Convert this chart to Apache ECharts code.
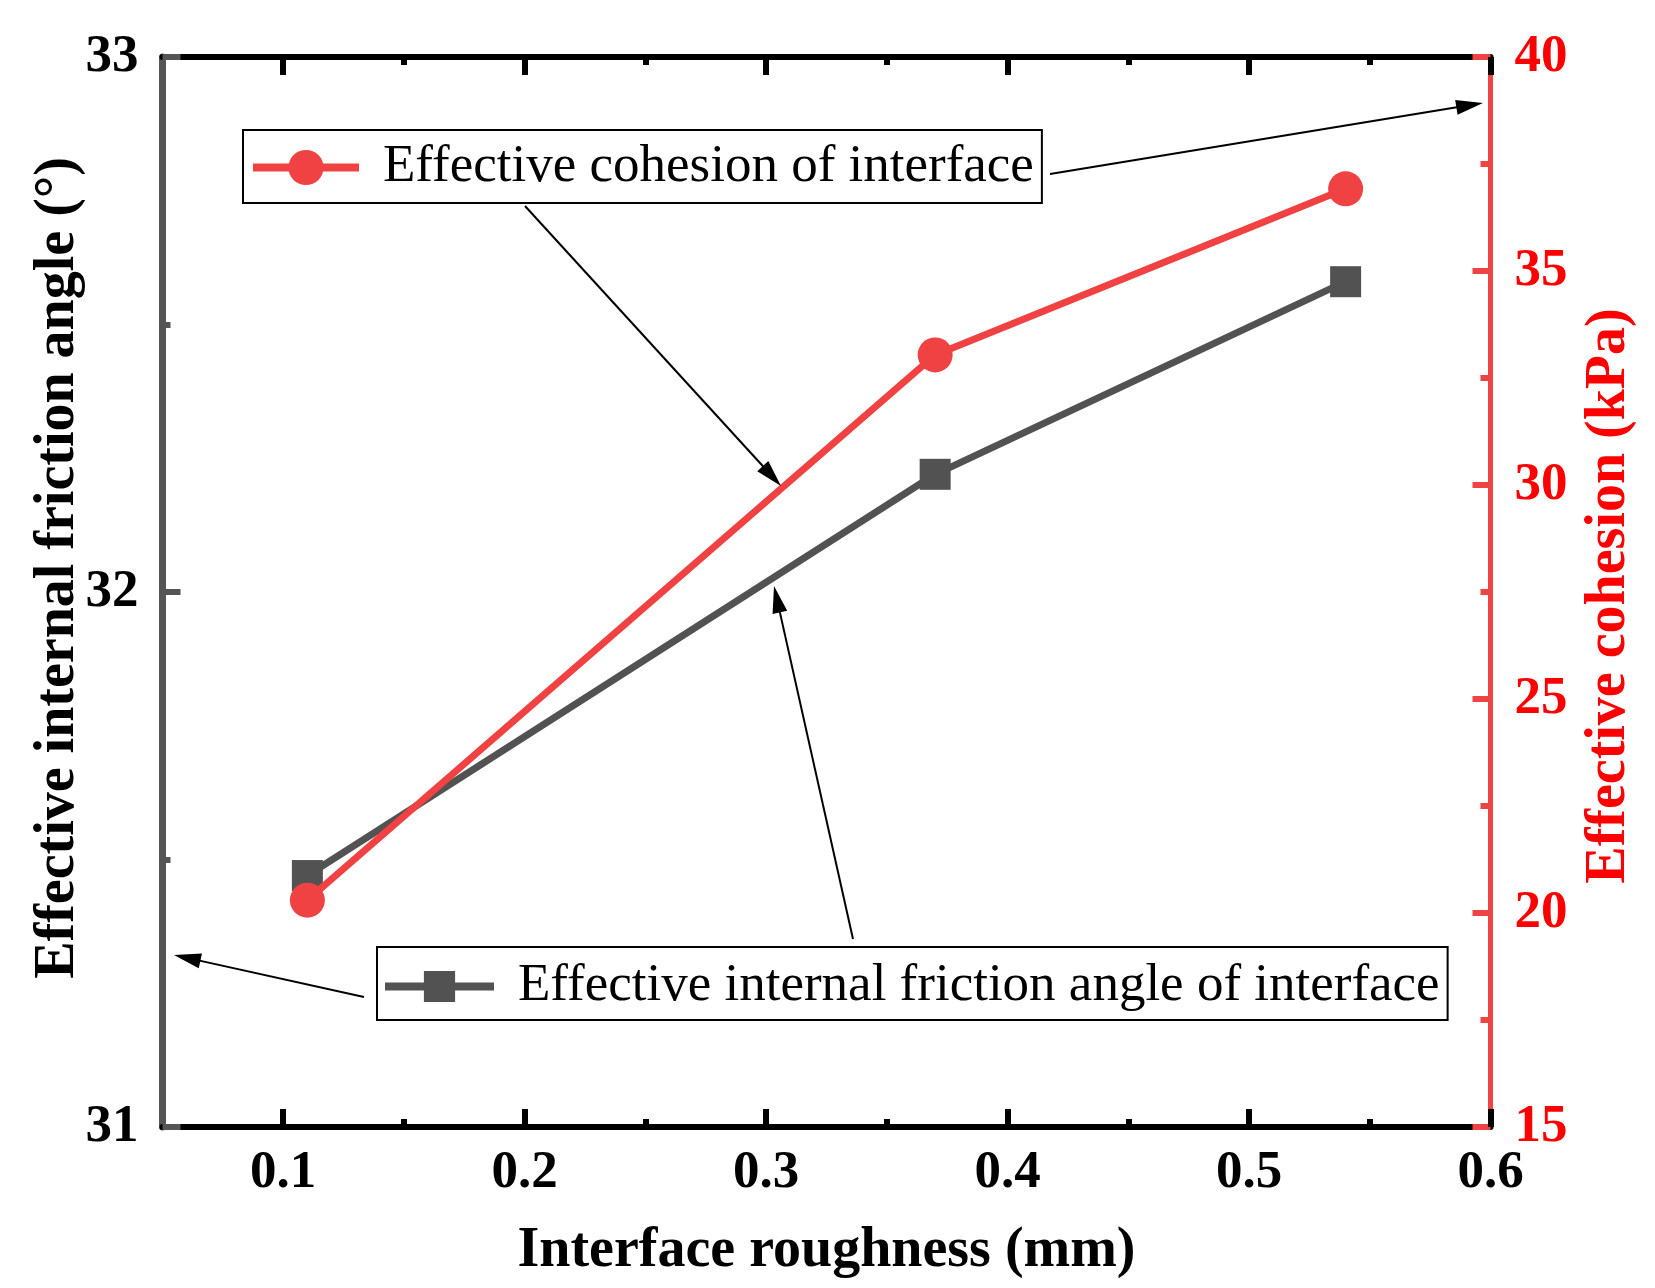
<!DOCTYPE html>
<html>
<head>
<meta charset="utf-8">
<script src="https://cdn.jsdelivr.net/npm/echarts@6/dist/echarts.min.js"></script>
<style>
html,body{margin:0;padding:0;background:#fff;}
#chart{width:1655px;height:1288px;}
</style>
</head>
<body>
<div id="chart"></div>
<script>
// ---- data ----
const roughness = [0.11, 0.37, 0.54];
const frictionAngle = [31.47, 32.22, 32.58];
const cohesion = [20.30, 33.04, 36.92];
const xMajorTicks = [0.1, 0.2, 0.3, 0.4, 0.5, 0.6];
const xMinorTicks = [0.15, 0.25, 0.35, 0.45, 0.55];
const nameCohesion = 'Effective cohesion of interface';
const nameFriction = 'Effective internal friction angle of interface';

const FONT = "'Liberation Serif', 'Times New Roman', serif";
const RED = '#F04242';
const GRAY = '#525252';

function pairs(xs, ys){ return xs.map((x,i)=>[x, ys[i]]); }

function arrow(x1,y1,x2,y2){
  const dx=x2-x1, dy=y2-y1, L=Math.sqrt(dx*dx+dy*dy);
  const ux=dx/L, uy=dy/L, hl=27, hw=7.5;
  const bx=x2-ux*hl, by=y2-uy*hl;
  return [
    {type:'line', z:100, shape:{x1:x1,y1:y1,x2:bx+ux*2,y2:by+uy*2}, style:{stroke:'#000', lineWidth:2}},
    {type:'polygon', z:100, shape:{points:[[x2,y2],[bx-uy*hw,by+ux*hw],[bx+uy*hw,by-ux*hw]]}, style:{fill:'#000'}}
  ];
}

const chart = echarts.init(document.getElementById('chart'), null, {renderer:'canvas'});

const xBase = {
  type:'value', min:0.05, max:0.6, gridIndex:0,
  splitLine:{show:false}
};

const option = {
  backgroundColor:'#fff',
  animation:false,
  grid:{left:162.5, right:164.5, top:57, bottom:161, containLabel:false},
  legend:[
    {
      data:[nameCohesion], left:243, top:130, orient:'horizontal',
      itemWidth:106, itemHeight:44, padding:[7,8,5,6],
      borderColor:'#000', borderWidth:2, backgroundColor:'#fff',
      selectedMode:false,
      lineStyle:{width:8},
      textStyle:{fontFamily:FONT, fontSize:53, color:'#000', lineHeight:57, padding:[4,0,0,19]}
    },
    {
      data:[nameFriction], left:377, top:947, orient:'horizontal',
      itemWidth:109, itemHeight:39, padding:[9,8,3,4],
      borderColor:'#000', borderWidth:2, backgroundColor:'#fff',
      selectedMode:false,
      lineStyle:{width:8},
      textStyle:{fontFamily:FONT, fontSize:53, color:'#000', lineHeight:59, padding:[2,0,0,19]}
    }
  ],
  xAxis:[
    Object.assign({}, xBase, {
      position:'bottom',
      name:'Interface roughness (mm)', nameLocation:'middle', nameGap:97,
      nameTextStyle:{fontFamily:FONT, fontSize:56, fontWeight:'bold', color:'#000'},
      axisLine:{show:true, onZero:false, lineStyle:{color:'#000', width:6}},
      axisTick:{show:true, inside:true, length:18, customValues:xMajorTicks, lineStyle:{color:'#000', width:6}},
      axisLabel:{show:true, customValues:xMajorTicks, margin:20, fontFamily:FONT, fontSize:53, fontWeight:'bold', color:'#000'}
    }),
    Object.assign({}, xBase, {
      position:'bottom',
      axisLine:{show:false, onZero:false},
      axisTick:{show:true, inside:true, length:8, customValues:xMinorTicks, lineStyle:{color:'#000', width:6}},
      axisLabel:{show:false}
    }),
    Object.assign({}, xBase, {
      position:'top',
      axisLine:{show:true, onZero:false, lineStyle:{color:'#000', width:6}},
      axisTick:{show:true, inside:true, length:18, customValues:xMajorTicks, lineStyle:{color:'#000', width:6}},
      axisLabel:{show:false}
    }),
    Object.assign({}, xBase, {
      position:'top',
      axisLine:{show:false, onZero:false},
      axisTick:{show:true, inside:true, length:8, customValues:xMinorTicks, lineStyle:{color:'#000', width:6}},
      axisLabel:{show:false}
    })
  ],
  yAxis:[
    {
      type:'value', position:'left', min:31, max:33, interval:1,
      name:'Effective internal friction angle (°)', nameLocation:'middle', nameGap:76, nameRotate:90,
      nameMoveOverlap:false,
      nameTextStyle:{fontFamily:FONT, fontSize:56, fontWeight:'bold', color:'#000', padding:[0,0,0,48]},
      axisLine:{show:true, onZero:false, lineStyle:{color:'#555', width:7}},
      axisTick:{show:true, inside:true, length:18, lineStyle:{color:'#555', width:6}},
      minorTick:{show:true, splitNumber:2, length:8, lineStyle:{color:'#555', width:6}},
      splitLine:{show:false}, minorSplitLine:{show:false},
      axisLabel:{margin:24, fontFamily:FONT, fontSize:53, fontWeight:'bold', color:'#000'}
    },
    {
      type:'value', position:'right', min:15, max:40, interval:5,
      name:'Effective cohesion (kPa)', nameLocation:'middle', nameGap:91, nameRotate:90,
      nameTextStyle:{fontFamily:FONT, fontSize:56, fontWeight:'bold', color:'#FF0000', padding:[0,8,0,0]},
      axisLine:{show:true, onZero:false, lineStyle:{color:'#F04444', width:5}},
      axisTick:{show:true, inside:true, length:18, lineStyle:{color:'#F04444', width:6}},
      minorTick:{show:true, splitNumber:2, length:10, lineStyle:{color:'#F04444', width:6}},
      splitLine:{show:false}, minorSplitLine:{show:false},
      axisLabel:{margin:24, fontFamily:FONT, fontSize:53, fontWeight:'bold', color:'#FF0000'}
    }
  ],
  series:[
    {
      name:nameFriction, type:'line', xAxisIndex:0, yAxisIndex:0,
      data:pairs(roughness, frictionAngle),
      symbol:'rect', symbolSize:31, showSymbol:true,
      lineStyle:{color:GRAY, width:7}, itemStyle:{color:GRAY},
      z:2
    },
    {
      name:nameCohesion, type:'line', xAxisIndex:0, yAxisIndex:1,
      data:pairs(roughness, cohesion),
      symbol:'circle', symbolSize:35, showSymbol:true,
      lineStyle:{color:RED, width:7}, itemStyle:{color:RED},
      z:3
    }
  ],
  graphic:[].concat(
    arrow(1050,174,1483,103),
    arrow(525,206,781,486),
    arrow(853,939,774,586),
    arrow(364,997,174,955)
  )
};
chart.setOption(option);
</script>
</body>
</html>
